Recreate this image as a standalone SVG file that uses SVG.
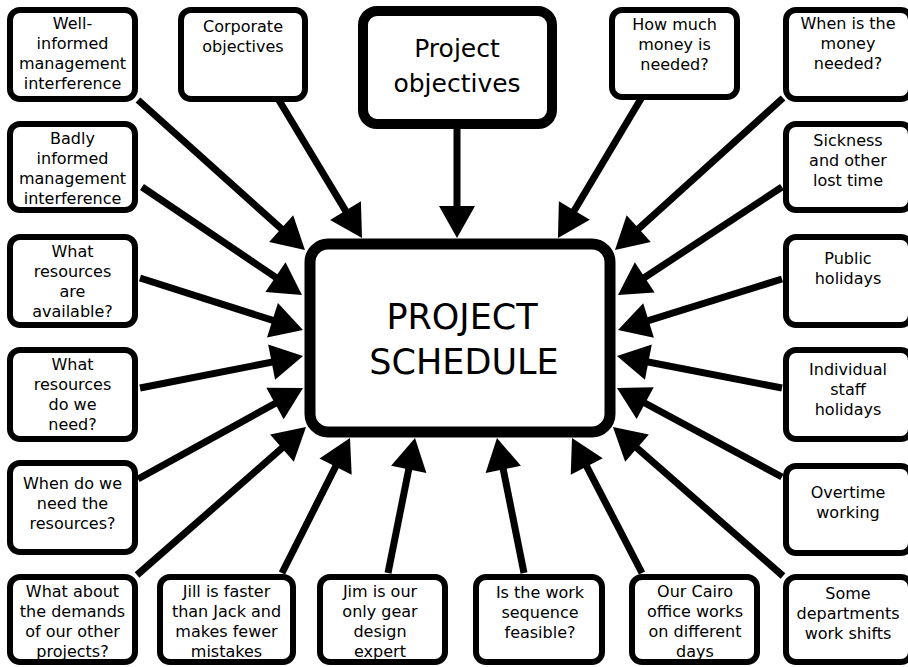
<svg xmlns="http://www.w3.org/2000/svg" width="908" height="667" viewBox="0 0 908 667">
<style>
.box{fill:#fff;stroke:#000;stroke-width:6}
.t{font-family:"DejaVu Sans",Verdana,sans-serif;font-size:16px;fill:#000;text-anchor:middle}
.c line{stroke:#000;stroke-width:7;marker-end:url(#ah)}
</style>
<defs>
<marker id="ah" markerUnits="userSpaceOnUse" markerWidth="32" markerHeight="36" refX="12" refY="18" orient="auto" overflow="visible">
<path d="M0,0 L32,18 L0,36 z" fill="#000"/>
</marker>
</defs>
<rect width="908" height="667" fill="#fff"/>
<g id="connectors" class="c">
<line x1="138" y1="100" x2="290.1" y2="236.6"/>
<line x1="142" y1="187" x2="285.4" y2="283.8"/>
<line x1="140" y1="278" x2="283.9" y2="323.9"/>
<line x1="140" y1="388" x2="283.4" y2="359.9"/>
<line x1="138" y1="479" x2="285.5" y2="397.7"/>
<line x1="137" y1="575" x2="291" y2="440.2"/>
<line x1="282" y1="573" x2="341" y2="455.9"/>
<line x1="388" y1="573" x2="411.1" y2="457.6"/>
<line x1="524" y1="573" x2="500.9" y2="457.6"/>
<line x1="642" y1="573" x2="581.2" y2="455.8"/>
<line x1="783" y1="576" x2="628" y2="440.2"/>
<line x1="782" y1="477" x2="634.6" y2="397.5"/>
<line x1="782" y1="388" x2="636.6" y2="359.8"/>
<line x1="782" y1="279" x2="637.1" y2="324.1"/>
<line x1="782" y1="187" x2="634.7" y2="284"/>
<line x1="783" y1="98" x2="629.8" y2="236.6"/>
<line x1="642" y1="97" x2="568.2" y2="220.8"/>
<line x1="457" y1="124" x2="457" y2="218"/>
<line x1="277" y1="97" x2="351.7" y2="220.9"/>
</g>
<g id="schedule">
<rect x="310" y="244" width="300" height="188" rx="18" fill="#fff" stroke="#000" stroke-width="11"/>
<text class="t" style="font-size:35px" x="462" y="329">PROJECT</text>
<text class="t" style="font-size:35px" x="464" y="374">SCHEDULE</text>
</g>
<g id="project-objectives">
<rect x="363" y="11" width="189" height="113" rx="14" fill="#fff" stroke="#000" stroke-width="10"/>
<text class="t" style="font-size:25px" x="457" y="57">Project</text>
<text class="t" style="font-size:25px" x="457" y="92">objectives</text>
</g>
<g id="well-informed">
<rect class="box" x="10" y="10" width="125" height="89" rx="10"/>
<text class="t" x="72.5" y="29">Well-</text>
<text class="t" x="72.5" y="49">informed</text>
<text class="t" x="72.5" y="69">management</text>
<text class="t" x="72.5" y="89">interference</text>
</g>
<g id="badly-informed">
<rect class="box" x="10" y="124" width="125" height="86" rx="10"/>
<text class="t" x="72.5" y="144">Badly</text>
<text class="t" x="72.5" y="164">informed</text>
<text class="t" x="72.5" y="184">management</text>
<text class="t" x="72.5" y="204">interference</text>
</g>
<g id="resources-available">
<rect class="box" x="10" y="237" width="125" height="88" rx="10"/>
<text class="t" x="72.5" y="257">What</text>
<text class="t" x="72.5" y="277">resources</text>
<text class="t" x="72.5" y="297">are</text>
<text class="t" x="72.5" y="317">available?</text>
</g>
<g id="resources-need">
<rect class="box" x="10" y="350" width="125" height="89" rx="10"/>
<text class="t" x="72.5" y="370">What</text>
<text class="t" x="72.5" y="390">resources</text>
<text class="t" x="72.5" y="410">do we</text>
<text class="t" x="72.5" y="430">need?</text>
</g>
<g id="when-resources">
<rect class="box" x="10" y="463" width="125" height="89" rx="10"/>
<text class="t" x="72.5" y="489">When do we</text>
<text class="t" x="72.5" y="509">need the</text>
<text class="t" x="72.5" y="529">resources?</text>
</g>
<g id="other-projects">
<rect class="box" x="10" y="577" width="125" height="85" rx="10"/>
<text class="t" x="72.5" y="597">What about</text>
<text class="t" x="72.5" y="617">the demands</text>
<text class="t" x="72.5" y="637">of our other</text>
<text class="t" x="72.5" y="657">projects?</text>
</g>
<g id="corporate-objectives">
<rect class="box" x="181" y="10" width="124" height="89" rx="10"/>
<text class="t" x="243" y="32">Corporate</text>
<text class="t" x="243" y="52">objectives</text>
</g>
<g id="how-much-money">
<rect class="box" x="612" y="10" width="125" height="87" rx="10"/>
<text class="t" x="674.5" y="30">How much</text>
<text class="t" x="674.5" y="50">money is</text>
<text class="t" x="674.5" y="70">needed?</text>
</g>
<g id="when-money">
<rect class="box" x="786" y="10" width="125" height="89" rx="10"/>
<text class="t" x="848" y="29">When is the</text>
<text class="t" x="848" y="49">money</text>
<text class="t" x="848" y="69">needed?</text>
</g>
<g id="sickness">
<rect class="box" x="786" y="124" width="125" height="86" rx="10"/>
<text class="t" x="848" y="146">Sickness</text>
<text class="t" x="848" y="166">and other</text>
<text class="t" x="848" y="186">lost time</text>
</g>
<g id="public-holidays">
<rect class="box" x="786" y="237" width="125" height="88" rx="10"/>
<text class="t" x="848" y="264">Public</text>
<text class="t" x="848" y="284">holidays</text>
</g>
<g id="staff-holidays">
<rect class="box" x="786" y="350" width="125" height="89" rx="10"/>
<text class="t" x="848" y="375">Individual</text>
<text class="t" x="848" y="395">staff</text>
<text class="t" x="848" y="415">holidays</text>
</g>
<g id="overtime">
<rect class="box" x="786" y="466" width="125" height="87" rx="10"/>
<text class="t" x="848" y="498">Overtime</text>
<text class="t" x="848" y="518">working</text>
</g>
<g id="shifts">
<rect class="box" x="786" y="577" width="125" height="85" rx="10"/>
<text class="t" x="848" y="599">Some</text>
<text class="t" x="848" y="619">departments</text>
<text class="t" x="848" y="639">work shifts</text>
</g>
<g id="jill">
<rect class="box" x="160" y="577" width="133" height="85" rx="10"/>
<text class="t" x="226.5" y="597">Jill is faster</text>
<text class="t" x="226.5" y="617">than Jack and</text>
<text class="t" x="226.5" y="637">makes fewer</text>
<text class="t" x="226.5" y="657">mistakes</text>
</g>
<g id="jim">
<rect class="box" x="320" y="577" width="125" height="85" rx="10"/>
<text class="t" x="380" y="597">Jim is our</text>
<text class="t" x="380" y="617">only gear</text>
<text class="t" x="380" y="637">design</text>
<text class="t" x="380" y="657">expert</text>
</g>
<g id="work-sequence">
<rect class="box" x="476" y="577" width="126" height="85" rx="10"/>
<text class="t" x="540" y="598">Is the work</text>
<text class="t" x="540" y="618">sequence</text>
<text class="t" x="540" y="638">feasible?</text>
</g>
<g id="cairo">
<rect class="box" x="632" y="577" width="125" height="85" rx="10"/>
<text class="t" x="695" y="597">Our Cairo</text>
<text class="t" x="695" y="617">office works</text>
<text class="t" x="695" y="637">on different</text>
<text class="t" x="695" y="657">days</text>
</g>
</svg>
